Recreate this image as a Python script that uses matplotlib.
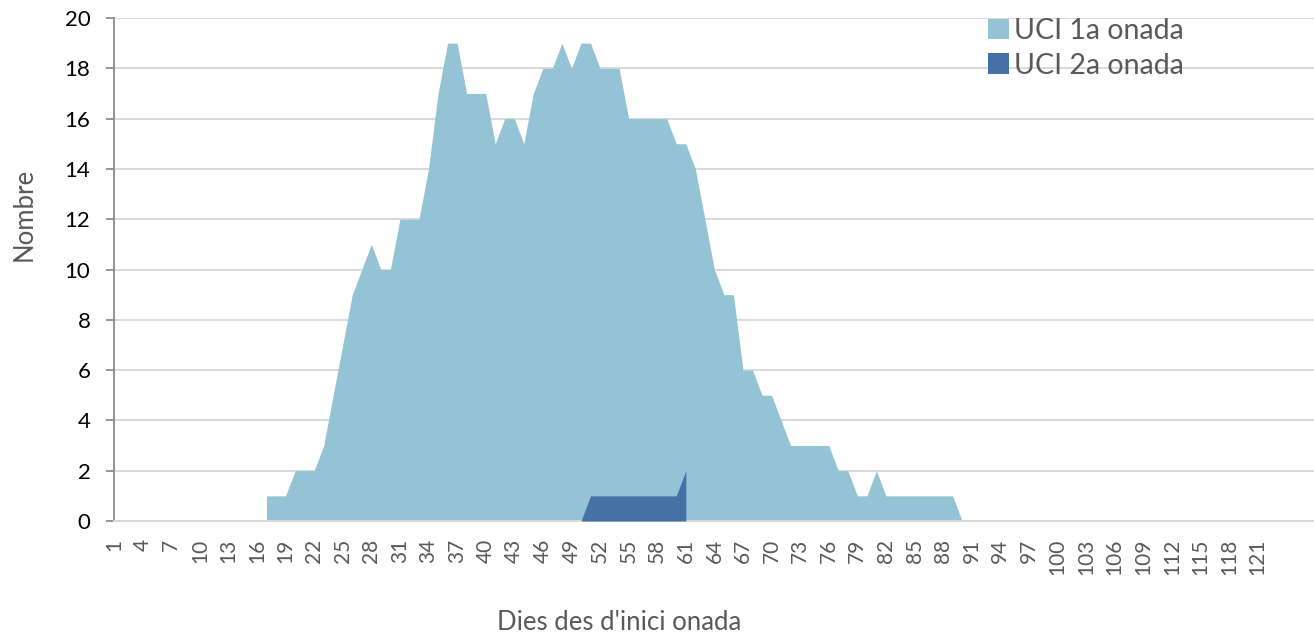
import numpy as np
import matplotlib
matplotlib.use("Agg")
import matplotlib.pyplot as plt
from matplotlib.patches import Patch

# ---------------- data ----------------
days = list(range(1, 127))
tick_days = list(range(1, 122, 3))

# UCI 1a onada: blank up to day 16, values from day 17 to day 90, zero afterwards
uci1_start = 17
uci1_values = [1, 1, 1, 2, 2, 2, 3, 5, 7, 9,          # 17-26
               10, 11, 10, 10, 12, 12, 12, 14, 17, 19,  # 27-36
               19, 17, 17, 17, 15, 16, 16, 15, 17, 18,  # 37-46
               18, 19, 18, 19, 19, 18, 18, 18, 16, 16,  # 47-56
               16, 16, 16, 15, 15, 14, 12, 10, 9, 9,    # 57-66
               6, 6, 5, 5, 4, 3, 3, 3, 3, 3,            # 67-76
               2, 2, 1, 1, 2, 1, 1, 1, 1, 1,            # 77-86
               1, 1, 1, 0]                              # 87-90

# UCI 2a onada: values from day 50 to day 61, blank elsewhere
uci2_start = 50
uci2_values = [0, 1, 1, 1, 1, 1, 1, 1, 1, 1, 1, 2]     # 50-61

labels = ["UCI 1a onada", "UCI 2a onada"]
colors = ["#93C3D5", "#4472A7"]
y_ticks = list(range(0, 21, 2))

def to_series(start, vals, fill_after):
    arr = np.full(len(days), np.nan)
    i0 = days.index(start)
    arr[i0:i0 + len(vals)] = vals
    if fill_after is not None:
        arr[i0 + len(vals):] = fill_after
    return arr

s1 = to_series(uci1_start, uci1_values, 0)
s2 = to_series(uci2_start, uci2_values, None)
x = np.array(days, dtype=float)

# ---------------- figure ----------------
plt.rcParams['font.family'] = ['Lato', 'DejaVu Sans']
W, H = 1314, 635
fig = plt.figure(figsize=(W / 100, H / 100), dpi=100)
L, R, T, B = 114, 1314, 18, 521
ax = fig.add_axes([L / W, 1 - B / H, (R - L) / W, (B - T) / H])

ax.fill_between(x, 0, s1, color=colors[0], linewidth=0, zorder=2)
ax.fill_between(x, 0, s2, color=colors[1], linewidth=0, zorder=3)

ax.set_xlim(1, 1 + (R - L) / 9.53)
ax.set_ylim(0, 20)
ax.set_yticks(y_ticks)
ax.set_xticks(tick_days)
ax.set_xticklabels([str(d) for d in tick_days], rotation=90, va='top', ha='center')

ax.yaxis.grid(True, color="#D9D9D9", linewidth=1.4)
ax.set_axisbelow(True)
for s in ['top', 'right']:
    ax.spines[s].set_visible(False)
ax.spines['left'].set_color("#8C8C8C")
ax.spines['left'].set_linewidth(1.3)
ax.spines['bottom'].set_color("#D9D9D9")
ax.spines['bottom'].set_linewidth(1.4)

ax.tick_params(axis='y', direction='out', length=6, width=1.3, color="#8C8C8C",
               labelsize=16, labelcolor="#000000", pad=11)
ax.tick_params(axis='x', length=0, labelsize=15, labelcolor="#595959", pad=13)

ax.set_ylabel("Nombre", fontsize=18.5, color="#595959")
ax.yaxis.set_label_coords((37 - L) / (R - L), (B - 214) / (B - T))

fig.text(619 / W, 1 - 623 / H, "Dies des d'inici onada", fontsize=18.5,
         color="#595959", ha='center', va='center')

handles = [Patch(facecolor=c, edgecolor='none') for c in colors]
leg = ax.legend(handles, labels, loc='upper left', frameon=False,
                bbox_to_anchor=(988 / W, 1 - 18 / H), bbox_transform=fig.transFigure,
                borderpad=0, borderaxespad=0, handlelength=0.75, handleheight=0.75,
                handletextpad=0.15, labelspacing=0.3, fontsize=20.5)
for t in leg.get_texts():
    t.set_color("#595959")

fig.savefig("out.png", dpi=100)
